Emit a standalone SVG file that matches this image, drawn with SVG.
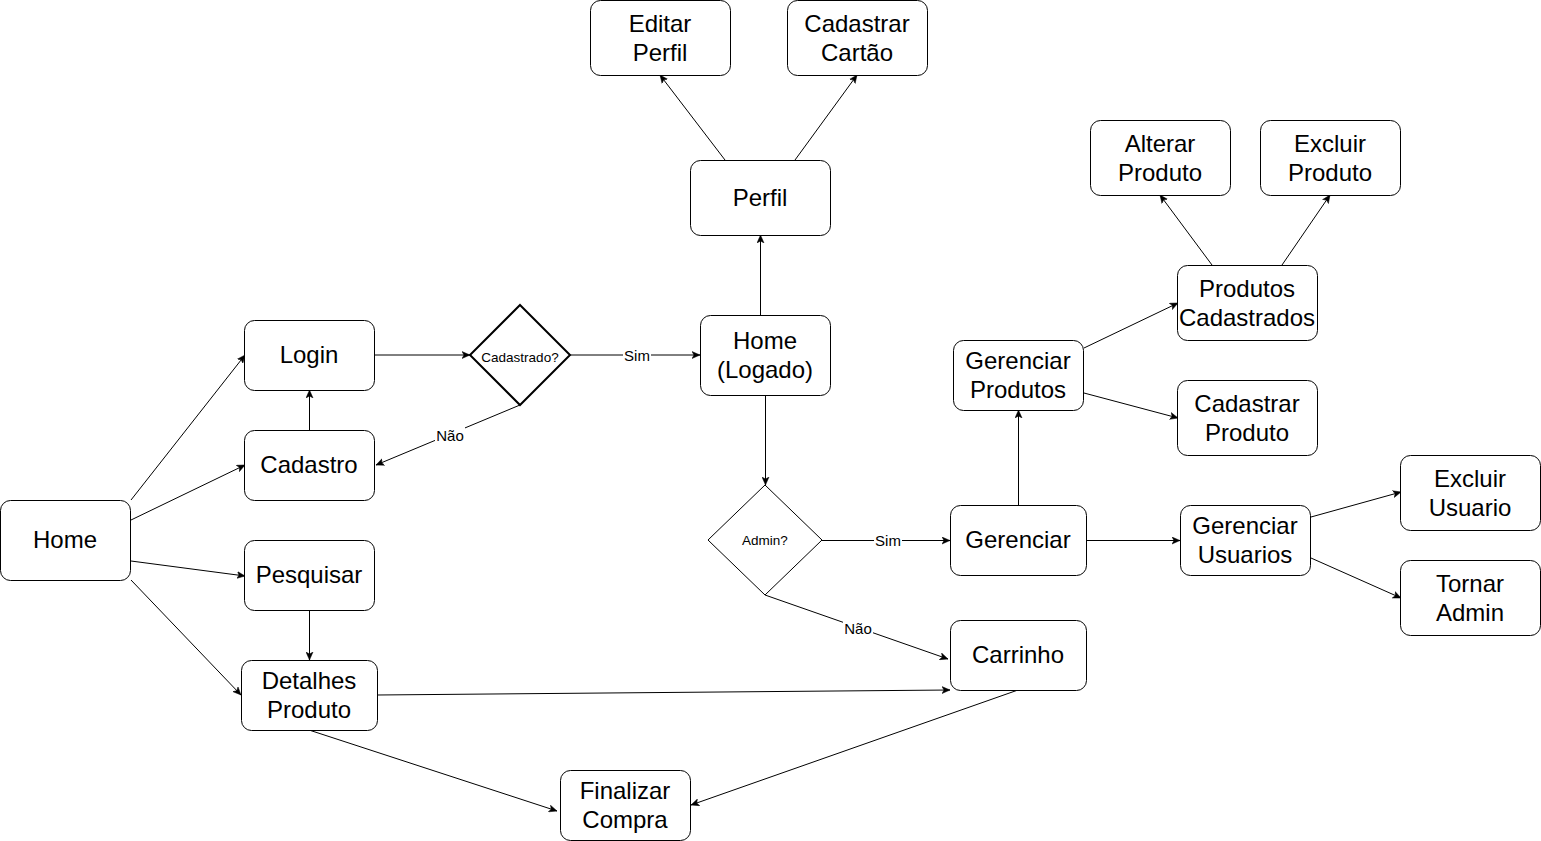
<svg xmlns="http://www.w3.org/2000/svg" width="1541" height="841" viewBox="0 0 1541 841">
<style>
.n rect{fill:#fff;stroke:#000;stroke-width:1}
.t{font-family:"Liberation Sans",Arial,sans-serif;font-size:24px;text-anchor:middle;fill:#000}
.s{font-family:"Liberation Sans",Arial,sans-serif;font-size:13.5px;text-anchor:middle;fill:#000}
.l{font-family:"Liberation Sans",Arial,sans-serif;font-size:15px;text-anchor:middle;fill:#000}
.e line{stroke:#000;stroke-width:1;fill:none;marker-end:url(#a)}
.lb{fill:#fff}
</style>
<defs>
<marker id="a" markerUnits="userSpaceOnUse" markerWidth="10" markerHeight="8" refX="8" refY="4" orient="auto">
<path d="M0,0.5 L8,4 L0,7.5 L2,4 Z" fill="#000" stroke="#000" stroke-width="0.5"/>
</marker>
</defs>
<rect width="1541" height="841" fill="#fff"/>
<g id="connectors" class="e">
<line x1="131" y1="500" x2="245" y2="355"/>
<line x1="131" y1="520" x2="245" y2="465"/>
<line x1="131" y1="561" x2="245" y2="576"/>
<line x1="131" y1="580" x2="241" y2="695"/>
<line x1="309.5" y1="430" x2="309.5" y2="390"/>
<line x1="375" y1="355" x2="470" y2="355"/>
<line x1="570" y1="355" x2="700" y2="355"/>
<line x1="520" y1="405" x2="376" y2="465"/>
<line x1="309.5" y1="610" x2="309.5" y2="660"/>
<line x1="760.5" y1="315" x2="760.5" y2="235"/>
<line x1="725" y1="160" x2="660" y2="75"/>
<line x1="795" y1="160" x2="857" y2="75"/>
<line x1="765.5" y1="395" x2="765.5" y2="485"/>
<line x1="822" y1="540.5" x2="950" y2="540.5"/>
<line x1="765" y1="595" x2="948" y2="659"/>
<line x1="377" y1="695" x2="950" y2="690"/>
<line x1="309" y1="730" x2="557" y2="811"/>
<line x1="1018" y1="690" x2="691" y2="805"/>
<line x1="1018.5" y1="505" x2="1018.5" y2="410"/>
<line x1="1087" y1="540.5" x2="1180" y2="540.5"/>
<line x1="1084" y1="348" x2="1178" y2="303"/>
<line x1="1084" y1="393" x2="1178" y2="418"/>
<line x1="1212" y1="265" x2="1160" y2="195"/>
<line x1="1282" y1="265" x2="1330" y2="195"/>
<line x1="1311" y1="517" x2="1401" y2="492"/>
<line x1="1311" y1="558" x2="1401" y2="598"/>
<rect class="lb" x="623" y="347" width="28" height="17"/>
<text class="l" x="637" y="361">Sim</text>
<rect class="lb" x="435" y="427" width="30" height="17"/>
<text class="l" x="450" y="441">Não</text>
<rect class="lb" x="874" y="532" width="28" height="17"/>
<text class="l" x="888" y="546">Sim</text>
<rect class="lb" x="843" y="620" width="30" height="17"/>
<text class="l" x="858" y="634">Não</text>
</g>
<g id="home" class="n"><rect x="0.5" y="500.5" width="130" height="80" rx="10"/><text class="t" x="65" y="548">Home</text></g>
<g id="login" class="n"><rect x="244.5" y="320.5" width="130" height="70" rx="10"/><text class="t" x="309" y="363">Login</text></g>
<g id="cadastro" class="n"><rect x="244.5" y="430.5" width="130" height="70" rx="10"/><text class="t" x="309" y="473">Cadastro</text></g>
<g id="pesquisar" class="n"><rect x="244.5" y="540.5" width="130" height="70" rx="10"/><text class="t" x="309" y="583">Pesquisar</text></g>
<g id="detalhes" class="n"><rect x="241.5" y="660.5" width="136" height="70" rx="10"/><text class="t" x="309" y="689">Detalhes</text><text class="t" x="309" y="718">Produto</text></g>
<g id="finalizar" class="n"><rect x="560.5" y="770.5" width="130" height="70" rx="10"/><text class="t" x="625" y="799">Finalizar</text><text class="t" x="625" y="828">Compra</text></g>
<g id="cadastrado"><polygon points="520,305 570,355 520,405 470,355" fill="#fff" stroke="#000" stroke-width="2"/><text class="s" x="520" y="362">Cadastrado?</text></g>
<g id="homelogado" class="n"><rect x="700.5" y="315.5" width="130" height="80" rx="10"/><text class="t" x="765" y="349">Home</text><text class="t" x="765" y="378">(Logado)</text></g>
<g id="perfil" class="n"><rect x="690.5" y="160.5" width="140" height="75" rx="10"/><text class="t" x="760" y="206">Perfil</text></g>
<g id="editarperfil" class="n"><rect x="590.5" y="0.5" width="140" height="75" rx="10"/><text class="t" x="660" y="32">Editar</text><text class="t" x="660" y="61">Perfil</text></g>
<g id="cadastrarcartao" class="n"><rect x="787.5" y="0.5" width="140" height="75" rx="10"/><text class="t" x="857" y="32">Cadastrar</text><text class="t" x="857" y="61">Cartão</text></g>
<g id="admin"><polygon points="765,485 822,540 765,595 708,540" fill="#fff" stroke="#000" stroke-width="1"/><text class="s" x="765" y="545">Admin?</text></g>
<g id="gerenciar" class="n"><rect x="950.5" y="505.5" width="136" height="70" rx="10"/><text class="t" x="1018" y="548">Gerenciar</text></g>
<g id="carrinho" class="n"><rect x="950.5" y="620.5" width="136" height="70" rx="10"/><text class="t" x="1018" y="663">Carrinho</text></g>
<g id="gerenciarprodutos" class="n"><rect x="953.5" y="340.5" width="130" height="70" rx="10"/><text class="t" x="1018" y="369">Gerenciar</text><text class="t" x="1018" y="398">Produtos</text></g>
<g id="produtoscadastrados" class="n"><rect x="1177.5" y="265.5" width="140" height="75" rx="10"/><text class="t" x="1247" y="297">Produtos</text><text class="t" x="1247" y="326">Cadastrados</text></g>
<g id="cadastrarproduto" class="n"><rect x="1177.5" y="380.5" width="140" height="75" rx="10"/><text class="t" x="1247" y="412">Cadastrar</text><text class="t" x="1247" y="441">Produto</text></g>
<g id="alterarproduto" class="n"><rect x="1090.5" y="120.5" width="140" height="75" rx="10"/><text class="t" x="1160" y="152">Alterar</text><text class="t" x="1160" y="181">Produto</text></g>
<g id="excluirproduto" class="n"><rect x="1260.5" y="120.5" width="140" height="75" rx="10"/><text class="t" x="1330" y="152">Excluir</text><text class="t" x="1330" y="181">Produto</text></g>
<g id="gerenciarusuarios" class="n"><rect x="1180.5" y="505.5" width="130" height="70" rx="10"/><text class="t" x="1245" y="534">Gerenciar</text><text class="t" x="1245" y="563">Usuarios</text></g>
<g id="excluirusuario" class="n"><rect x="1400.5" y="455.5" width="140" height="75" rx="10"/><text class="t" x="1470" y="487">Excluir</text><text class="t" x="1470" y="516">Usuario</text></g>
<g id="tornaradmin" class="n"><rect x="1400.5" y="560.5" width="140" height="75" rx="10"/><text class="t" x="1470" y="592">Tornar</text><text class="t" x="1470" y="621">Admin</text></g>
</svg>
